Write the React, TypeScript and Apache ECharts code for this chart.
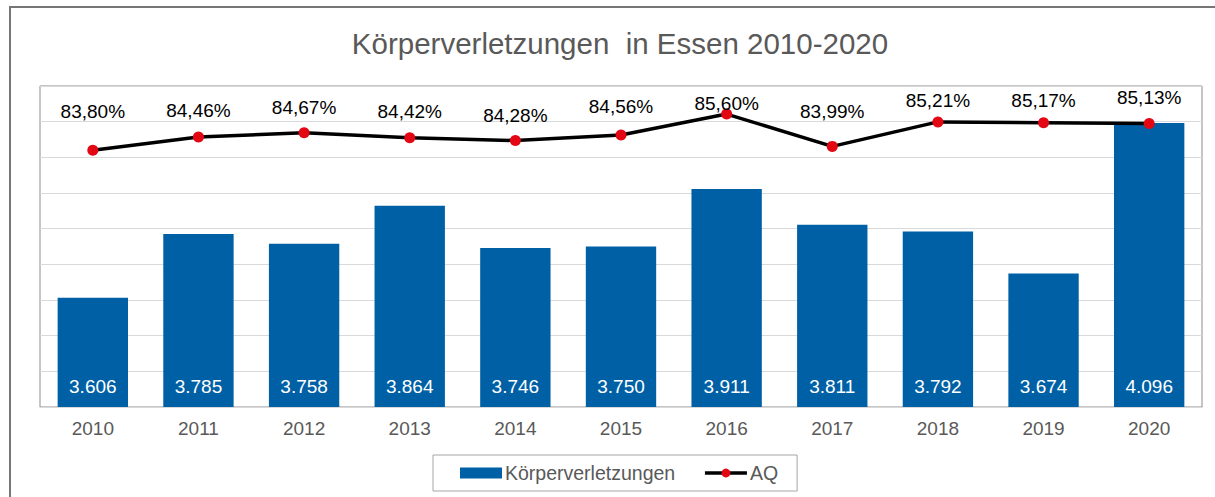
import React, { useEffect, useRef } from "react";
import * as echarts from "echarts";

const years = ["2010", "2011", "2012", "2013", "2014", "2015", "2016", "2017", "2018", "2019", "2020"];
const koerperverletzungen = [3606, 3785, 3758, 3864, 3746, 3750, 3911, 3811, 3792, 3674, 4096];
const aq = [83.8, 84.46, 84.67, 84.42, 84.28, 84.56, 85.6, 83.99, 85.21, 85.17, 85.13];
const aqLabelDy = [-39, -26, -25, -26, -25, -28, -11, -35, -21, -22, -26];

const FONT = "'Liberation Sans', Arial, sans-serif";

export default function App() {
  const ref = useRef<HTMLDivElement>(null);
  useEffect(() => {
    if (!ref.current) return;
    const chart = echarts.init(ref.current, undefined, { renderer: "svg" });
    chart.setOption({
      animation: false,
      backgroundColor: "#ffffff",
      textStyle: { fontFamily: FONT },
      title: {
        text: "Körperverletzungen  in Essen 2010-2020",
        left: 615,
        top: 23,
        textAlign: "center",
        textStyle: { fontFamily: FONT, fontSize: 29.5, fontWeight: "normal", color: "#595959" },
      },
      graphic: [
        {
          type: "rect",
          shape: { x: 10, y: 7, width: 1400, height: 700 },
          style: { fill: "none", stroke: "#767676", lineWidth: 2 },
          silent: true,
          z: 100,
        },
      ],
      grid: {
        left: 40,
        top: 86,
        right: 13,
        bottom: 90,
        show: true,
        borderColor: "#8c8c8c",
        borderWidth: 1,
      },
      legend: {
        left: 433,
        top: 455,
        padding: [8, 19, 8, 27],
        borderColor: "#a6a6a6",
        borderWidth: 1,
        itemGap: 28,
        itemWidth: 42,
        itemHeight: 11,
        textStyle: { fontFamily: FONT, fontSize: 19.5, color: "#595959", padding: [0, 0, 0, -2] },
        data: [
          { name: "Körperverletzungen", icon: "rect" },
          { name: "AQ", lineStyle: { width: 3.5 } },
        ],
      },
      xAxis: {
        type: "category",
        data: years,
        axisLine: { show: true, lineStyle: { color: "#d9d9d9", width: 1 } },
        axisTick: { show: false },
        axisLabel: { fontFamily: FONT, fontSize: 19, color: "#595959", margin: 12 },
        z: 10,
      },
      yAxis: [
        {
          type: "value",
          min: 3300,
          max: 4200,
          interval: 100,
          axisLabel: { show: false },
          axisLine: { show: false },
          axisTick: { show: false },
          splitLine: { show: true, lineStyle: { color: "#d9d9d9", width: 1 } },
        },
        {
          type: "value",
          min: 71,
          max: 87,
          show: false,
          splitLine: { show: false },
        },
      ],
      series: [
        {
          name: "Körperverletzungen",
          type: "bar",
          data: koerperverletzungen,
          barWidth: "66.6%",
          itemStyle: { color: "#0060a6" },
          label: {
            show: true,
            position: "insideBottom",
            distance: 11,
            fontFamily: FONT,
            fontSize: 19,
            color: "#ffffff",
            formatter: (p: any) => (p.value / 1000).toFixed(3),
          },
        },
        {
          name: "AQ",
          type: "line",
          yAxisIndex: 1,
          data: aq.map((v, i) => ({ value: v, label: { offset: [0, aqLabelDy[i]] } })),
          symbol: "circle",
          symbolSize: 11,
          lineStyle: { color: "#000000", width: 3.5 },
          itemStyle: { color: "#e30613", borderWidth: 0 },
          label: {
            show: true,
            position: "inside",
            fontFamily: FONT,
            fontSize: 19,
            color: "#000000",
            formatter: (p: any) => p.value.toFixed(2).replace(".", ",") + "%",
          },
          z: 5,
        },
      ],
    });
    return () => chart.dispose();
  }, []);
  return (
    <div
      ref={ref}
      style={{ position: "fixed", left: 0, top: 0, width: 1215, height: 497 }}
    />
  );
}
